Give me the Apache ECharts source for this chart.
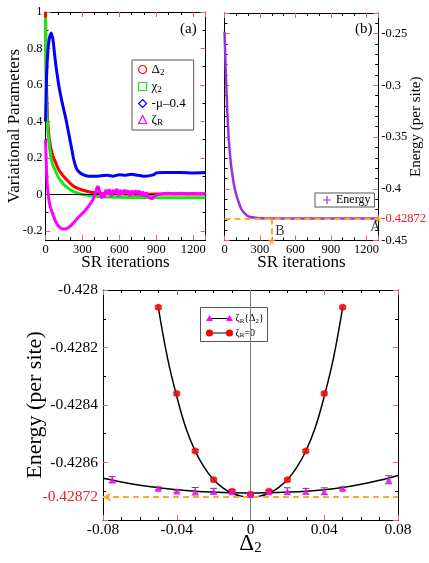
<!DOCTYPE html>
<html><head><meta charset="utf-8">
<script src="https://cdn.jsdelivr.net/npm/echarts@6/dist/echarts.min.js"></script>
<style>html,body{margin:0;padding:0;background:#fff}#c{width:429px;height:563px}</style>
</head><body><div id="c"></div>
<script>
// ---------- Panel (a): variational parameters vs SR iterations ----------
const iterDelta = [0,3,6,10,15,20,30,40,50,60,80,100,120,150,180,210,240,270,300,350,400,450,500,600,700,800,900,1000,1100,1200,1300];
const delta2    = [1.0,0.82,0.66,0.55,0.45,0.38,0.31,0.265,0.235,0.21,0.178,0.145,0.122,0.097,0.075,0.055,0.04,0.031,0.024,0.015,0.009,0.005,0.003,0.002,0.001,0.001,0.002,0.002,0.002,0.002,0.002];
const iterChi   = [0,2,4,8,12,20,30,40,50,60,80,100,120,150,180,210,240,270,300,350,400,450,500,600,700,800,900,1000,1100,1200,1300];
const chi2      = [0.97,0.82,0.7,0.52,0.43,0.34,0.27,0.22,0.185,0.16,0.13,0.10,0.078,0.053,0.036,0.022,0.012,0.005,0.0,-0.006,-0.01,-0.012,-0.014,-0.016,-0.017,-0.017,-0.018,-0.018,-0.019,-0.019,-0.019];
const iterMu    = [0,5,10,20,30,45,60,75,90,110,130,150,170,190,210,230,250,270,300,350,400,450,500,550,600,650,700,750,800,850,880,900,950,1000,1100,1200,1300];
const muShift   = [0.40,0.55,0.67,0.79,0.85,0.885,0.85,0.76,0.68,0.59,0.52,0.46,0.40,0.33,0.26,0.19,0.145,0.125,0.11,0.10,0.10,0.102,0.105,0.10,0.108,0.105,0.11,0.105,0.10,0.103,0.108,0.118,0.12,0.12,0.12,0.118,0.12];
const iterZeta  = [0,4,8,12,16,20,30,40,50,60,80,100,120,140,160,180,200,230,260,290,320,350,380,400,415,425,435,445,455,465,475,490,505,520,535,550,565,580,595,610,625,640,655,670,685,700,715,730,745,760,775,790,805,820,835,850,865,880,895,910,950,1000,1050,1100,1150,1200,1250,1300];
const zetaR     = [0.30,0.22,0.14,0.08,0.04,0.01,-0.04,-0.07,-0.09,-0.11,-0.145,-0.17,-0.183,-0.19,-0.19,-0.185,-0.175,-0.155,-0.13,-0.11,-0.09,-0.065,-0.035,-0.005,0.03,0.045,0.03,0.005,-0.022,0.012,-0.018,0.025,0.0,0.028,-0.012,0.024,0.005,0.03,-0.008,0.024,0.0,0.025,0.005,0.022,-0.008,0.02,0.0,0.022,0.003,0.02,-0.008,0.015,-0.012,0.012,-0.015,-0.02,-0.025,-0.017,-0.005,0.005,0.003,0.006,0.004,0.006,0.003,0.005,0.004,0.005];
const namesA    = ['Δ2','χ2','-μ–0.4','ζR'];
const legendA   = ['Δ{s|2}','χ{s|2}','-μ–0.4','ζ{s|R}'];

// ---------- Panel (b): energy vs SR iterations ----------
const iterE   = [0,10,20,30,40,50,60,80,100,120,140,160,190,220,260,300,350,400,500,600,700,800,900,1000,1100,1200,1300];
const energyB = [-0.248,-0.284,-0.314,-0.341,-0.358,-0.371,-0.381,-0.396,-0.406,-0.413,-0.419,-0.4225,-0.4258,-0.4273,-0.4281,-0.4285,-0.42868,-0.42872,-0.42872,-0.42872,-0.42872,-0.42872,-0.42872,-0.42872,-0.42872,-0.42872,-0.42872];
const refEnergy = -0.42872;
const pointB = 400;
const pointA = 1300;

// ---------- Panel (c): energy vs Delta2 ----------
const deltaZeta0  = [-0.05,-0.04,-0.03,-0.02,-0.01,0,0.01,0.02,0.03,0.04,0.05];
const energyZeta0 = [-0.42806,-0.42836,-0.42856,-0.42866,-0.42870,-0.42871,-0.42870,-0.42866,-0.42856,-0.42836,-0.42806];
const errZeta0    = [0.000005,0.000005,0.000005,0.000005,0.000004,0.000004,0.000004,0.000005,0.000005,0.000005,0.000005];
const deltaZetaR  = [-0.075,-0.05,-0.04,-0.03,-0.02,-0.01,0,0.01,0.02,0.03,0.04,0.05,0.075];
const energyZetaR = [-0.42866,-0.42869,-0.42870,-0.42870,-0.42870,-0.428702,-0.42871,-0.428702,-0.42870,-0.42870,-0.42870,-0.42869,-0.42866];
const errZetaR    = [0.000011,0.000005,0.000004,0.000013,0.00001,0.000007,0.000004,0.000007,0.000012,0.00001,0.000012,0.000005,0.000014];
const fitX0       = [-0.05,-0.045,-0.04,-0.035,-0.03,-0.025,-0.02,-0.015,-0.01,-0.005,0,0.005,0.01,0.015,0.02,0.025,0.03,0.035,0.04,0.045,0.05];
const fitY0       = [-0.42806,-0.428237,-0.42837,-0.428481,-0.42856,-0.428618,-0.42866,-0.428688,-0.428707,-0.428717,-0.42872,-0.428717,-0.428707,-0.428688,-0.42866,-0.428618,-0.42856,-0.428481,-0.42837,-0.428237,-0.42806];
const fitXR       = [-0.08,-0.07,-0.06,-0.05,-0.04,-0.03,-0.02,-0.01,0,0.01,0.02,0.03,0.04,0.05,0.06,0.07,0.08];
const fitYR       = [-0.428655,-0.428668,-0.428679,-0.428688,-0.428695,-0.4287,-0.428703,-0.428705,-0.428706,-0.428705,-0.428703,-0.4287,-0.428695,-0.428687,-0.428676,-0.428662,-0.428645];

// ---------- tick labels ----------
const iterTicks    = [0,300,600,900,1200];
const paramTicks   = [-0.2,0,0.2,0.4,0.6,0.8,1];
const energyTicksB = [-0.45,-0.4,-0.35,-0.3,-0.25];
const deltaTicks   = [-0.08,-0.04,0,0.04,0.08];
const energyTicksC = [-0.428,-0.4282,-0.4284,-0.4286];

const FONT = '"Liberation Serif","Times New Roman",serif';
const TICKRED = '#f06060';
const ORANGE = '#f7a935';
const REDTXT = '#ee1c25';
const ECOL = '#9a30dc';

const pts = (xs, ys) => xs.map((x, i) => [x, ys[i]]);
const fmt = v => String(+(+v).toFixed(5));
const redRef = v => Math.abs(v - refEnergy) < 1e-7 ? REDTXT : '#000';

function vax(o) {
  const a = {
    type: 'value', gridIndex: o.grid, position: o.pos, min: o.min, max: o.max,
    axisLine: { show: o.line !== false, onZero: false, lineStyle: { color: '#000', width: 1 } },
    axisTick: { show: !!o.interval, inside: true, length: 5, lineStyle: { color: TICKRED, width: 1 } },
    minorTick: { show: !!o.minor, splitNumber: o.minor || 2, length: 3, lineStyle: { color: '#000', width: 1 } },
    axisLabel: { show: false },
    splitLine: { show: false }, minorSplitLine: { show: false },
    silent: true
  };
  if (o.interval) a.interval = o.interval;
  if (o.labels) a.axisLabel = Object.assign({ show: true, customValues: o.labels, fontFamily: FONT, color: '#000',
    fontSize: o.fs, margin: o.margin, formatter: fmt }, o.labelExtra || {});
  if (o.name) Object.assign(a, { name: o.name, nameLocation: 'middle', nameGap: o.nameGap, nameMoveOverlap: false,
    nameTextStyle: Object.assign({ fontFamily: FONT, fontSize: o.nameSize, color: '#000' }, o.nameStyle || {}) });
  return a;
}

const xAxes = [
  // grid 0 (a)
  vax({ grid: 0, pos: 'bottom', min: 0, max: 1300, interval: 300, minor: 3, labels: iterTicks, fs: 12.5, margin: 3,
        name: 'SR iterations', nameGap: 14, nameSize: 17 }),
  vax({ grid: 0, pos: 'top', min: 0, max: 1300, interval: 300, minor: 3 }),
  // grid 1 (b)
  vax({ grid: 1, pos: 'bottom', min: 0, max: 1300, interval: 300, minor: 3, labels: iterTicks, fs: 12.5, margin: 3,
        name: 'SR iterations', nameGap: 14, nameSize: 17 }),
  vax({ grid: 1, pos: 'top', min: 0, max: 1300, interval: 300, minor: 3 }),
  // grid 2 (c)
  vax({ grid: 2, pos: 'bottom', min: -0.08, max: 0.08, interval: 0.04, minor: 4, labels: deltaTicks, fs: 15.5, margin: 2,
        name: 'Δ{s|2}', nameGap: 11, nameSize: 23,
        nameStyle: { rich: { s: { fontFamily: FONT, fontSize: 15, verticalAlign: 'bottom', padding: [10, 0, 0, 0] } } } }),
  vax({ grid: 2, pos: 'top', min: -0.08, max: 0.08, interval: 0.04, minor: 4 }),
  // grid 3 (overlay of (a) for y ticks)
  Object.assign(vax({ grid: 3, pos: 'bottom', min: 0, max: 1300 }), { show: false })
];
const yAxes = [
  // grid 0 (a): frame + name only
  vax({ grid: 0, pos: 'left', min: -0.25, max: 1, name: 'Variational Parameters', nameGap: 22, nameSize: 17 }),
  vax({ grid: 0, pos: 'right', min: -0.25, max: 1 }),
  // grid 1 (b)
  vax({ grid: 1, pos: 'left', min: -0.45, max: -0.23, interval: 0.05, minor: 5 }),
  vax({ grid: 1, pos: 'right', min: -0.45, max: -0.23, interval: 0.05, minor: 5,
        labels: energyTicksB.concat([refEnergy]), fs: 12.5, margin: 3, labelExtra: { color: redRef },
        name: 'Energy (per site)', nameGap: 30, nameSize: 15 }),
  // grid 2 (c)
  vax({ grid: 2, pos: 'left', min: -0.4288, max: -0.428, interval: 0.0002, minor: 2,
        labels: energyTicksC.concat([refEnergy]), fs: 15.5, margin: 5, labelExtra: { color: redRef },
        name: 'Energy (per site)', nameGap: 57, nameSize: 22 }),
  vax({ grid: 2, pos: 'right', min: -0.4288, max: -0.428, interval: 0.0002, minor: 2 }),
  // grid 3: ticks + labels for (a) from -0.2 to 1
  vax({ grid: 3, pos: 'left', min: -0.2, max: 1, interval: 0.2, minor: 2, line: false, labels: paramTicks, fs: 12.5, margin: 3 }),
  vax({ grid: 3, pos: 'right', min: -0.2, max: 1, interval: 0.2, minor: 2, line: false })
];

const colorsA = ['#ff0000', '#19e619', '#0000ff', '#ff00ff'];
const iconsA = ['circle', 'rect', 'diamond', 'triangle'];
const dataA = [pts(iterDelta, delta2), pts(iterChi, chi2), pts(iterMu, muShift), pts(iterZeta, zetaR)];

const series = [];
dataA.forEach((d, i) => {
  const s = { type: 'line', name: namesA[i], xAxisIndex: 0, yAxisIndex: 0, data: d, showSymbol: false,
    smooth: i === 3 ? false : 0.3, lineStyle: { color: colorsA[i], width: 3 }, itemStyle: { color: colorsA[i] }, z: 3 + i };
  if (i === 0) s.markLine = { silent: true, symbol: 'none', label: { show: false }, lineStyle: { color: '#000', width: 1, type: 'solid' }, data: [{ yAxis: 0 }] };
  series.push(s);
});
series.push({ type: 'line', name: 'Energy', xAxisIndex: 2, yAxisIndex: 2, data: pts(iterE, energyB), showSymbol: false, smooth: 0.3,
  lineStyle: { color: ECOL, width: 2.5 }, itemStyle: { color: ECOL }, z: 3,
  markLine: { silent: true, symbol: 'none', label: { show: false }, lineStyle: { color: ORANGE, width: 2, type: [6, 4] }, z: 5,
    data: [[{ coord: [0, refEnergy] }, { coord: [pointA, refEnergy] }], [{ coord: [pointB, refEnergy] }, { coord: [pointB, -0.45] }]] } });
const STAR = 'path://M50,0 L61,35 L98,35 L68,57 L79,91 L50,70 L21,91 L32,57 L2,35 L39,35 Z';
series.push({ type: 'scatter', xAxisIndex: 2, yAxisIndex: 2, symbol: STAR, symbolSize: 9, itemStyle: { color: ORANGE }, z: 6, clip: false,
  data: [
    { value: [pointB, -0.45], label: { show: true, formatter: 'B', position: 'inside', offset: [8, -9], fontFamily: FONT, fontSize: 14, color: '#000' } },
    { value: [pointA, refEnergy], label: { show: true, formatter: 'A', position: 'inside', offset: [-3, 9], fontFamily: FONT, fontSize: 14, color: '#000' } }
  ] });

// panel c
series.push({ type: 'line', xAxisIndex: 4, yAxisIndex: 4, data: pts(fitXR, fitYR), showSymbol: false, smooth: 0.4,
  lineStyle: { color: '#000', width: 1.5 }, z: 2,
  markLine: { silent: true, symbol: 'none', label: { show: false }, lineStyle: { color: '#808080', width: 1, type: 'solid' }, data: [{ xAxis: 0 }] } });
series.push({ type: 'line', xAxisIndex: 4, yAxisIndex: 4, data: pts(fitX0, fitY0), showSymbol: false, smooth: 0.4,
  lineStyle: { color: '#000', width: 1.5 }, z: 2,
  markLine: { silent: true, label: { show: false }, lineStyle: { color: ORANGE, width: 2, type: [6, 4] }, z: 3,
    data: [[{ coord: [-0.08, refEnergy], symbol: 'arrow', symbolSize: [7, 8] }, { coord: [0.08, refEnergy], symbol: 'none' }]] } });
function errSeries(xs, ys, es) {
  return { type: 'custom', xAxisIndex: 4, yAxisIndex: 4, z: 4, silent: true,
    dimensions: ['x', 'y', 'e'], encode: { x: 0, y: 1 },
    data: xs.map((x, i) => [x, ys[i], es[i]]),
    renderItem: (p, api) => {
      const x = api.value(0), y = api.value(1), e = api.value(2);
      const t = api.coord([x, y + e]), b = api.coord([x, y - e]);
      const st = { stroke: '#555', lineWidth: 1 };
      return { type: 'group', children: [
        { type: 'line', shape: { x1: t[0], y1: t[1], x2: b[0], y2: b[1] }, style: st },
        { type: 'line', shape: { x1: t[0] - 3.5, y1: t[1], x2: t[0] + 3.5, y2: t[1] }, style: st },
        { type: 'line', shape: { x1: b[0] - 3.5, y1: b[1], x2: b[0] + 3.5, y2: b[1] }, style: st }
      ] };
    } };
}
series.push(errSeries(deltaZeta0, energyZeta0, errZeta0));
series.push(errSeries(deltaZetaR, energyZetaR, errZetaR));
series.push({ type: 'scatter', xAxisIndex: 4, yAxisIndex: 4, data: pts(deltaZeta0, energyZeta0), symbol: 'circle', symbolSize: 7, itemStyle: { color: '#ff0000' }, z: 5 });
series.push({ type: 'scatter', xAxisIndex: 4, yAxisIndex: 4, data: pts(deltaZetaR, energyZetaR), symbol: 'triangle', symbolSize: 7, itemStyle: { color: '#ff00ff' }, z: 6 });

const PLUS = 'path://M3.4,0h1.2v3.4h3.4v1.2h-3.4v3.4h-1.2v-3.4h-3.4v-1.2h3.4z';
const option = {
  animation: false,
  backgroundColor: '#fff',
  grid: [
    { left: 45.5, top: 12, width: 160, height: 228 },
    { left: 224.5, top: 13, width: 159.5, height: 227.5 },
    { left: 103, top: 290, width: 295, height: 230 },
    { left: 45.5, top: 12, width: 160, height: 218.88 }
  ],
  xAxis: xAxes,
  yAxis: yAxes,
  legend: [
    { orient: 'vertical', left: 132, top: 60, selectedMode: false, itemWidth: 8, itemHeight: 8, itemGap: 3,
      padding: [3, 8, 3, 6], borderColor: '#555', borderWidth: 1, backgroundColor: '#fff',
      data: namesA.map((n, i) => ({ name: n, icon: iconsA[i], itemStyle: { color: 'rgba(0,0,0,0)', borderColor: colorsA[i], borderWidth: 1.2 } })),
      formatter: n => legendA[namesA.indexOf(n)],
      textStyle: { fontFamily: FONT, fontSize: 13, color: '#000', rich: { s: { fontFamily: FONT, fontSize: 9, verticalAlign: 'bottom', padding: [6, 0, 0, 0] } } } },
    { left: 315, top: 193, selectedMode: false, itemWidth: 8, itemHeight: 8, padding: [1, 4, 1, 8],
      borderColor: '#555', borderWidth: 1, backgroundColor: '#fff',
      data: [{ name: 'Energy', icon: PLUS, itemStyle: { color: ECOL } }],
      textStyle: { fontFamily: FONT, fontSize: 12, color: '#000' } }
  ],
  graphic: [
    { type: 'text', left: 180, top: 22, style: { text: '(a)', fontFamily: FONT, fontSize: 15, fill: '#000' } },
    { type: 'text', left: 355, top: 22, style: { text: '(b)', fontFamily: FONT, fontSize: 15, fill: '#000' } },
    { type: 'group', left: 200, top: 307, children: [
      { type: 'rect', shape: { x: 0, y: 0, width: 67, height: 34 }, style: { fill: '#fff', stroke: '#555', lineWidth: 1 } },
      { type: 'line', shape: { x1: 9, y1: 11, x2: 29, y2: 11 }, style: { stroke: '#000', lineWidth: 1 } },
      { type: 'polygon', shape: { points: [[9, 7.5], [12.5, 13.5], [5.5, 13.5]] }, style: { fill: '#ff00ff' } },
      { type: 'polygon', shape: { points: [[29, 7.5], [32.5, 13.5], [25.5, 13.5]] }, style: { fill: '#ff00ff' } },
      { type: 'text', x: 35, y: 11, style: { text: 'ζ{s|R}{Δ{s|2}}', fontFamily: FONT, fontSize: 10, fill: '#000', verticalAlign: 'middle',
        rich: { s: { fontFamily: FONT, fontSize: 7, verticalAlign: 'bottom', padding: [5, 0, 0, 0] } } } },
      { type: 'line', shape: { x1: 9, y1: 25.5, x2: 29, y2: 25.5 }, style: { stroke: '#000', lineWidth: 1 } },
      { type: 'circle', shape: { cx: 9, cy: 25.5, r: 3.6 }, style: { fill: '#ff0000' } },
      { type: 'circle', shape: { cx: 29, cy: 25.5, r: 3.6 }, style: { fill: '#ff0000' } },
      { type: 'text', x: 35, y: 25.5, style: { text: 'ζ{s|R}=0', fontFamily: FONT, fontSize: 10, fill: '#000', verticalAlign: 'middle',
        rich: { s: { fontFamily: FONT, fontSize: 7, verticalAlign: 'bottom', padding: [5, 0, 0, 0] } } } }
    ] }
  ],
  series
};
const chart = echarts.init(document.getElementById('c'), null, { renderer: 'canvas' });
chart.setOption(option);
</script>
</body></html>
